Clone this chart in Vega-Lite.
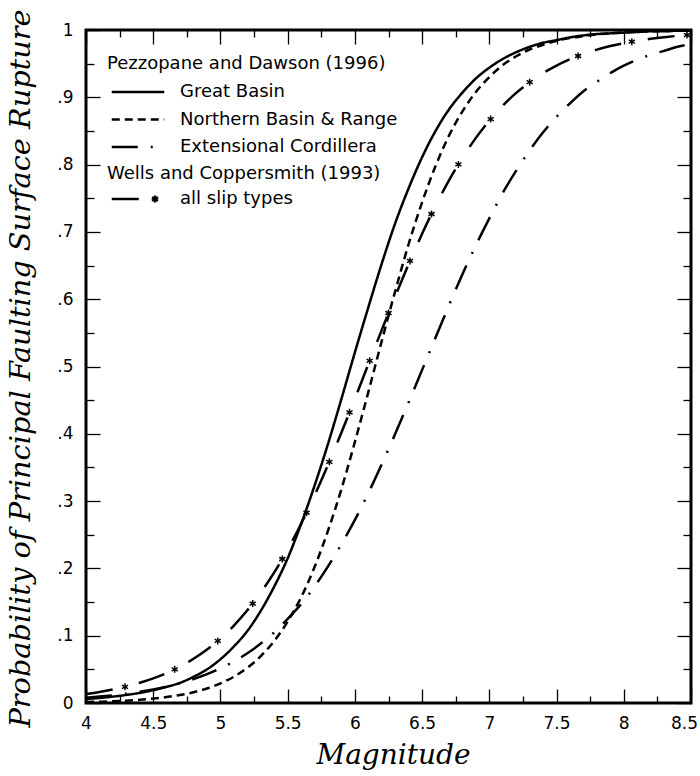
{
  "$schema": "https://vega.github.io/schema/vega-lite/v6.json",
  "width": 605,
  "height": 673,
  "autosize": {"type": "none"},
  "padding": {"left": 86, "top": 30, "right": 9, "bottom": 73},
  "background": "white",
  "config": {
    "view": {"stroke": "black", "strokeWidth": 3},
    "font": "DejaVu Sans",
    "axis": {
      "grid": false,
      "domain": false,
      "labelFont": "DejaVu Sans",
      "labelFontSize": 17,
      "labelColor": "black",
      "tickColor": "black",
      "tickWidth": 1.3,
      "titleFont": "DejaVu Serif",
      "titleFontStyle": "italic",
      "titleFontWeight": "normal",
      "titleFontSize": 28,
      "titleColor": "black"
    },
    "legend": {
      "titleFont": "DejaVu Sans",
      "titleFontWeight": "normal",
      "titleFontSize": 18,
      "titleColor": "black",
      "titleLimit": 0,
      "labelFont": "DejaVu Sans",
      "labelFontSize": 18,
      "labelColor": "black",
      "labelLimit": 0,
      "padding": 0
    }
  },
  "datasets": {
    "pd": [
      {"M": 4.0, "P": 0.006, "curve": "Great Basin"},
      {"M": 4.1, "P": 0.0075, "curve": "Great Basin"},
      {"M": 4.2, "P": 0.0095, "curve": "Great Basin"},
      {"M": 4.3, "P": 0.012, "curve": "Great Basin"},
      {"M": 4.4, "P": 0.015, "curve": "Great Basin"},
      {"M": 4.5, "P": 0.019, "curve": "Great Basin"},
      {"M": 4.6, "P": 0.024, "curve": "Great Basin"},
      {"M": 4.7, "P": 0.030, "curve": "Great Basin"},
      {"M": 4.8, "P": 0.039, "curve": "Great Basin"},
      {"M": 4.9, "P": 0.050, "curve": "Great Basin"},
      {"M": 5.0, "P": 0.065, "curve": "Great Basin"},
      {"M": 5.1, "P": 0.084, "curve": "Great Basin"},
      {"M": 5.2, "P": 0.107, "curve": "Great Basin"},
      {"M": 5.3, "P": 0.137, "curve": "Great Basin"},
      {"M": 5.4, "P": 0.173, "curve": "Great Basin"},
      {"M": 5.5, "P": 0.215, "curve": "Great Basin"},
      {"M": 5.6, "P": 0.266, "curve": "Great Basin"},
      {"M": 5.7, "P": 0.323, "curve": "Great Basin"},
      {"M": 5.8, "P": 0.385, "curve": "Great Basin"},
      {"M": 5.9, "P": 0.452, "curve": "Great Basin"},
      {"M": 6.0, "P": 0.521, "curve": "Great Basin"},
      {"M": 6.1, "P": 0.588, "curve": "Great Basin"},
      {"M": 6.2, "P": 0.653, "curve": "Great Basin"},
      {"M": 6.3, "P": 0.713, "curve": "Great Basin"},
      {"M": 6.4, "P": 0.765, "curve": "Great Basin"},
      {"M": 6.5, "P": 0.811, "curve": "Great Basin"},
      {"M": 6.6, "P": 0.850, "curve": "Great Basin"},
      {"M": 6.7, "P": 0.882, "curve": "Great Basin"},
      {"M": 6.8, "P": 0.907, "curve": "Great Basin"},
      {"M": 6.9, "P": 0.928, "curve": "Great Basin"},
      {"M": 7.0, "P": 0.944, "curve": "Great Basin"},
      {"M": 7.1, "P": 0.957, "curve": "Great Basin"},
      {"M": 7.2, "P": 0.967, "curve": "Great Basin"},
      {"M": 7.3, "P": 0.975, "curve": "Great Basin"},
      {"M": 7.4, "P": 0.981, "curve": "Great Basin"},
      {"M": 7.5, "P": 0.985, "curve": "Great Basin"},
      {"M": 7.6, "P": 0.989, "curve": "Great Basin"},
      {"M": 7.7, "P": 0.992, "curve": "Great Basin"},
      {"M": 7.8, "P": 0.994, "curve": "Great Basin"},
      {"M": 7.9, "P": 0.995, "curve": "Great Basin"},
      {"M": 8.0, "P": 0.996, "curve": "Great Basin"},
      {"M": 8.1, "P": 0.997, "curve": "Great Basin"},
      {"M": 8.2, "P": 0.998, "curve": "Great Basin"},
      {"M": 8.3, "P": 0.998, "curve": "Great Basin"},
      {"M": 8.4, "P": 0.999, "curve": "Great Basin"},
      {"M": 8.5, "P": 0.999, "curve": "Great Basin"},
      {"M": 4.0, "P": 0.0014, "curve": "Northern Basin & Range"},
      {"M": 4.1, "P": 0.0019, "curve": "Northern Basin & Range"},
      {"M": 4.2, "P": 0.0026, "curve": "Northern Basin & Range"},
      {"M": 4.3, "P": 0.0035, "curve": "Northern Basin & Range"},
      {"M": 4.4, "P": 0.0048, "curve": "Northern Basin & Range"},
      {"M": 4.5, "P": 0.0065, "curve": "Northern Basin & Range"},
      {"M": 4.6, "P": 0.0088, "curve": "Northern Basin & Range"},
      {"M": 4.7, "P": 0.0119, "curve": "Northern Basin & Range"},
      {"M": 4.8, "P": 0.016, "curve": "Northern Basin & Range"},
      {"M": 4.9, "P": 0.0216, "curve": "Northern Basin & Range"},
      {"M": 5.0, "P": 0.0291, "curve": "Northern Basin & Range"},
      {"M": 5.1, "P": 0.0391, "curve": "Northern Basin & Range"},
      {"M": 5.2, "P": 0.0523, "curve": "Northern Basin & Range"},
      {"M": 5.3, "P": 0.0696, "curve": "Northern Basin & Range"},
      {"M": 5.4, "P": 0.0922, "curve": "Northern Basin & Range"},
      {"M": 5.5, "P": 0.121, "curve": "Northern Basin & Range"},
      {"M": 5.6, "P": 0.157, "curve": "Northern Basin & Range"},
      {"M": 5.7, "P": 0.202, "curve": "Northern Basin & Range"},
      {"M": 5.8, "P": 0.256, "curve": "Northern Basin & Range"},
      {"M": 5.9, "P": 0.318, "curve": "Northern Basin & Range"},
      {"M": 6.0, "P": 0.388, "curve": "Northern Basin & Range"},
      {"M": 6.1, "P": 0.462, "curve": "Northern Basin & Range"},
      {"M": 6.2, "P": 0.538, "curve": "Northern Basin & Range"},
      {"M": 6.3, "P": 0.612, "curve": "Northern Basin & Range"},
      {"M": 6.4, "P": 0.682, "curve": "Northern Basin & Range"},
      {"M": 6.5, "P": 0.744, "curve": "Northern Basin & Range"},
      {"M": 6.6, "P": 0.798, "curve": "Northern Basin & Range"},
      {"M": 6.7, "P": 0.843, "curve": "Northern Basin & Range"},
      {"M": 6.8, "P": 0.879, "curve": "Northern Basin & Range"},
      {"M": 6.9, "P": 0.908, "curve": "Northern Basin & Range"},
      {"M": 7.0, "P": 0.930, "curve": "Northern Basin & Range"},
      {"M": 7.1, "P": 0.948, "curve": "Northern Basin & Range"},
      {"M": 7.2, "P": 0.961, "curve": "Northern Basin & Range"},
      {"M": 7.3, "P": 0.971, "curve": "Northern Basin & Range"},
      {"M": 7.4, "P": 0.978, "curve": "Northern Basin & Range"},
      {"M": 7.5, "P": 0.984, "curve": "Northern Basin & Range"},
      {"M": 7.6, "P": 0.988, "curve": "Northern Basin & Range"},
      {"M": 7.7, "P": 0.991, "curve": "Northern Basin & Range"},
      {"M": 7.8, "P": 0.9935, "curve": "Northern Basin & Range"},
      {"M": 7.9, "P": 0.995, "curve": "Northern Basin & Range"},
      {"M": 8.0, "P": 0.9965, "curve": "Northern Basin & Range"},
      {"M": 8.1, "P": 0.9974, "curve": "Northern Basin & Range"},
      {"M": 8.2, "P": 0.998, "curve": "Northern Basin & Range"},
      {"M": 8.3, "P": 0.9986, "curve": "Northern Basin & Range"},
      {"M": 8.4, "P": 0.999, "curve": "Northern Basin & Range"},
      {"M": 8.5, "P": 0.9992, "curve": "Northern Basin & Range"},
      {"M": 4.0, "P": 0.0078, "curve": "Extensional Cordillera"},
      {"M": 4.1, "P": 0.0095, "curve": "Extensional Cordillera"},
      {"M": 4.2, "P": 0.0115, "curve": "Extensional Cordillera"},
      {"M": 4.3, "P": 0.0139, "curve": "Extensional Cordillera"},
      {"M": 4.4, "P": 0.0168, "curve": "Extensional Cordillera"},
      {"M": 4.5, "P": 0.0202, "curve": "Extensional Cordillera"},
      {"M": 4.6, "P": 0.0244, "curve": "Extensional Cordillera"},
      {"M": 4.7, "P": 0.0295, "curve": "Extensional Cordillera"},
      {"M": 4.8, "P": 0.0356, "curve": "Extensional Cordillera"},
      {"M": 4.9, "P": 0.0428, "curve": "Extensional Cordillera"},
      {"M": 5.0, "P": 0.0515, "curve": "Extensional Cordillera"},
      {"M": 5.1, "P": 0.0617, "curve": "Extensional Cordillera"},
      {"M": 5.2, "P": 0.0739, "curve": "Extensional Cordillera"},
      {"M": 5.3, "P": 0.0883, "curve": "Extensional Cordillera"},
      {"M": 5.4, "P": 0.105, "curve": "Extensional Cordillera"},
      {"M": 5.5, "P": 0.125, "curve": "Extensional Cordillera"},
      {"M": 5.6, "P": 0.147, "curve": "Extensional Cordillera"},
      {"M": 5.7, "P": 0.173, "curve": "Extensional Cordillera"},
      {"M": 5.8, "P": 0.203, "curve": "Extensional Cordillera"},
      {"M": 5.9, "P": 0.236, "curve": "Extensional Cordillera"},
      {"M": 6.0, "P": 0.272, "curve": "Extensional Cordillera"},
      {"M": 6.1, "P": 0.312, "curve": "Extensional Cordillera"},
      {"M": 6.2, "P": 0.355, "curve": "Extensional Cordillera"},
      {"M": 6.3, "P": 0.400, "curve": "Extensional Cordillera"},
      {"M": 6.4, "P": 0.447, "curve": "Extensional Cordillera"},
      {"M": 6.5, "P": 0.495, "curve": "Extensional Cordillera"},
      {"M": 6.6, "P": 0.543, "curve": "Extensional Cordillera"},
      {"M": 6.7, "P": 0.591, "curve": "Extensional Cordillera"},
      {"M": 6.8, "P": 0.637, "curve": "Extensional Cordillera"},
      {"M": 6.9, "P": 0.680, "curve": "Extensional Cordillera"},
      {"M": 7.0, "P": 0.720, "curve": "Extensional Cordillera"},
      {"M": 7.1, "P": 0.758, "curve": "Extensional Cordillera"},
      {"M": 7.2, "P": 0.791, "curve": "Extensional Cordillera"},
      {"M": 7.3, "P": 0.821, "curve": "Extensional Cordillera"},
      {"M": 7.4, "P": 0.848, "curve": "Extensional Cordillera"},
      {"M": 7.5, "P": 0.871, "curve": "Extensional Cordillera"},
      {"M": 7.6, "P": 0.891, "curve": "Extensional Cordillera"},
      {"M": 7.7, "P": 0.909, "curve": "Extensional Cordillera"},
      {"M": 7.8, "P": 0.923, "curve": "Extensional Cordillera"},
      {"M": 7.9, "P": 0.936, "curve": "Extensional Cordillera"},
      {"M": 8.0, "P": 0.947, "curve": "Extensional Cordillera"},
      {"M": 8.1, "P": 0.956, "curve": "Extensional Cordillera"},
      {"M": 8.2, "P": 0.963, "curve": "Extensional Cordillera"},
      {"M": 8.3, "P": 0.969, "curve": "Extensional Cordillera"},
      {"M": 8.4, "P": 0.975, "curve": "Extensional Cordillera"},
      {"M": 8.5, "P": 0.979, "curve": "Extensional Cordillera"}
    ],
    "wc": [
      {"M": 4.0, "P": 0.0134}, {"M": 4.1, "P": 0.0164}, {"M": 4.2, "P": 0.0201},
      {"M": 4.3, "P": 0.0245}, {"M": 4.4, "P": 0.0300}, {"M": 4.5, "P": 0.0366},
      {"M": 4.6, "P": 0.0445}, {"M": 4.7, "P": 0.0541}, {"M": 4.8, "P": 0.0657},
      {"M": 4.9, "P": 0.0794}, {"M": 5.0, "P": 0.0958}, {"M": 5.1, "P": 0.1151},
      {"M": 5.2, "P": 0.1377}, {"M": 5.3, "P": 0.164}, {"M": 5.4, "P": 0.1941},
      {"M": 5.5, "P": 0.2282}, {"M": 5.6, "P": 0.2664}, {"M": 5.7, "P": 0.3083},
      {"M": 5.8, "P": 0.3537}, {"M": 5.9, "P": 0.402}, {"M": 6.0, "P": 0.4521},
      {"M": 6.1, "P": 0.5033}, {"M": 6.2, "P": 0.5544}, {"M": 6.3, "P": 0.6044},
      {"M": 6.4, "P": 0.6523}, {"M": 6.5, "P": 0.6973}, {"M": 6.6, "P": 0.7388},
      {"M": 6.7, "P": 0.7765}, {"M": 6.8, "P": 0.81}, {"M": 6.9, "P": 0.8397},
      {"M": 7.0, "P": 0.8654}, {"M": 7.1, "P": 0.8876}, {"M": 7.2, "P": 0.9065},
      {"M": 7.3, "P": 0.9225}, {"M": 7.4, "P": 0.936}, {"M": 7.5, "P": 0.9472},
      {"M": 7.6, "P": 0.9566}, {"M": 7.7, "P": 0.9644}, {"M": 7.8, "P": 0.9708},
      {"M": 7.9, "P": 0.9761}, {"M": 8.0, "P": 0.9804}, {"M": 8.1, "P": 0.984},
      {"M": 8.2, "P": 0.9869}, {"M": 8.3, "P": 0.9893}, {"M": 8.4, "P": 0.9913},
      {"M": 8.5, "P": 0.9929}
    ],
    "stars": [
      {"M": 4.29, "P": 0.0241, "grp": "all slip types"},
      {"M": 4.66, "P": 0.0500, "grp": "all slip types"},
      {"M": 4.98, "P": 0.0923, "grp": "all slip types"},
      {"M": 5.24, "P": 0.1478, "grp": "all slip types"},
      {"M": 5.46, "P": 0.2140, "grp": "all slip types"},
      {"M": 5.64, "P": 0.2827, "grp": "all slip types"},
      {"M": 5.81, "P": 0.3584, "grp": "all slip types"},
      {"M": 5.96, "P": 0.4319, "grp": "all slip types"},
      {"M": 6.11, "P": 0.5085, "grp": "all slip types"},
      {"M": 6.25, "P": 0.5795, "grp": "all slip types"},
      {"M": 6.41, "P": 0.6568, "grp": "all slip types"},
      {"M": 6.57, "P": 0.7266, "grp": "all slip types"},
      {"M": 6.77, "P": 0.8003, "grp": "all slip types"},
      {"M": 7.01, "P": 0.8677, "grp": "all slip types"},
      {"M": 7.30, "P": 0.9225, "grp": "all slip types"},
      {"M": 7.66, "P": 0.9614, "grp": "all slip types"},
      {"M": 8.06, "P": 0.9827, "grp": "all slip types"},
      {"M": 8.47, "P": 0.9925, "grp": "all slip types"}
    ]
  },
  "layer": [
    {
      "data": {"name": "pd"},
      "mark": {"type": "line", "interpolate": "monotone", "color": "black", "strokeWidth": 2.5},
      "encoding": {
        "x": {
          "field": "M", "type": "quantitative",
          "scale": {"domain": [4, 8.5], "nice": false, "zero": false},
          "axis": {
            "orient": "bottom",
            "title": "Magnitude",
            "values": [4, 4.25, 4.5, 4.75, 5, 5.25, 5.5, 5.75, 6, 6.25, 6.5, 6.75, 7, 7.25, 7.5, 7.75, 8, 8.25, 8.5],
            "labelExpr": "round(datum.value*4)%2==1 ? '' : '' + datum.value",
            "tickSize": {"condition": {"test": "round(datum.value*4)%2==1", "value": -7}, "value": -14},
            "labelOffset": {"condition": {"test": "datum.value==8.5", "value": -7}, "value": 0},
            "labelPadding": 26,
            "labelFlush": false,
            "titleX": 307,
            "titleY": 60,
            "titleBaseline": "alphabetic"
          }
        },
        "y": {
          "field": "P", "type": "quantitative",
          "scale": {"domain": [0, 1], "nice": false},
          "axis": {
            "orient": "left",
            "title": "Probability of Principal Faulting Surface Rupture",
            "values": [0, 0.05, 0.1, 0.15, 0.2, 0.25, 0.3, 0.35, 0.4, 0.45, 0.5, 0.55, 0.6, 0.65, 0.7, 0.75, 0.8, 0.85, 0.9, 0.95, 1],
            "labelExpr": "round(datum.value*20)%2==1 ? '' : (datum.value==0 ? '0' : (datum.value==1 ? '1' : replace(format(datum.value, '.1f'), '0.', '.')))",
            "tickSize": {"condition": {"test": "round(datum.value*20)%2==1", "value": -8}, "value": -14},
            "labelPadding": 27,
            "labelFlush": false,
            "titleX": -66,
            "titleY": 338,
            "titleAngle": -90,
            "titleAlign": "center",
            "titleBaseline": "middle",
            "titleFontSize": 28.8
          }
        },
        "strokeDash": {
          "field": "curve", "type": "nominal",
          "scale": {
            "domain": ["Great Basin", "Northern Basin & Range", "Extensional Cordillera"],
            "range": [[1, 0], [8, 5], [26, 13, 2, 13]]
          },
          "legend": {
            "title": "Pezzopane and Dawson (1996)",
            "orient": "none",
            "legendX": 21,
            "legendY": 25,
            "symbolType": "M-2.5,0L2.5,0",
            "symbolSize": 441,
            "symbolStrokeWidth": 2.5,
            "symbolStrokeColor": "black",
            "symbolOffset": 19,
            "labelOffset": 30,
            "rowPadding": 6.5,
            "titlePadding": 7
          }
        }
      }
    },
    {
      "data": {"name": "wc"},
      "mark": {"type": "line", "interpolate": "monotone", "color": "black", "strokeWidth": 2.5, "strokeDash": [27, 27]},
      "encoding": {
        "x": {
          "field": "M", "type": "quantitative",
          "axis": {
            "orient": "top",
            "title": null,
            "labels": false,
            "values": [4, 4.25, 4.5, 4.75, 5, 5.25, 5.5, 5.75, 6, 6.25, 6.5, 6.75, 7, 7.25, 7.5, 7.75, 8, 8.25, 8.5],
            "tickSize": {"condition": {"test": "round(datum.value*4)%2==1", "value": -7}, "value": -14}
          }
        },
        "y": {
          "field": "P", "type": "quantitative",
          "axis": {
            "orient": "right",
            "title": null,
            "labels": false,
            "values": [0, 0.05, 0.1, 0.15, 0.2, 0.25, 0.3, 0.35, 0.4, 0.45, 0.5, 0.55, 0.6, 0.65, 0.7, 0.75, 0.8, 0.85, 0.9, 0.95, 1],
            "tickSize": {"condition": {"test": "round(datum.value*20)%2==1", "value": -8}, "value": -14}
          }
        }
      }
    },
    {
      "data": {"name": "stars"},
      "mark": {
        "type": "point",
        "shape": "M0,-1L0,1M-0.87,-0.5L0.87,0.5M-0.87,0.5L0.87,-0.5",
        "filled": false,
        "color": "black",
        "strokeWidth": 1.5,
        "size": 49
      },
      "encoding": {
        "x": {"field": "M", "type": "quantitative", "axis": null},
        "y": {"field": "P", "type": "quantitative", "axis": null},
        "opacity": {
          "field": "grp", "type": "nominal",
          "scale": {"domain": ["all slip types"], "range": [1]},
          "legend": {
            "title": "Wells and Coppersmith (1993)",
            "orient": "none",
            "legendX": 21,
            "legendY": 135,
            "symbolType": "M-2.5,0L0.07,0M1.62,-0.33L1.62,0.33M1.33,-0.17L1.91,0.17M1.33,0.17L1.91,-0.17",
            "symbolSize": 441,
            "symbolStrokeWidth": 2.5,
            "symbolStrokeColor": "black",
            "symbolFillColor": "transparent",
            "symbolOffset": 19,
            "labelOffset": 30,
            "titlePadding": 4
          }
        }
      }
    }
  ],
  "resolve": {"axis": {"x": "independent", "y": "independent"}}
}
